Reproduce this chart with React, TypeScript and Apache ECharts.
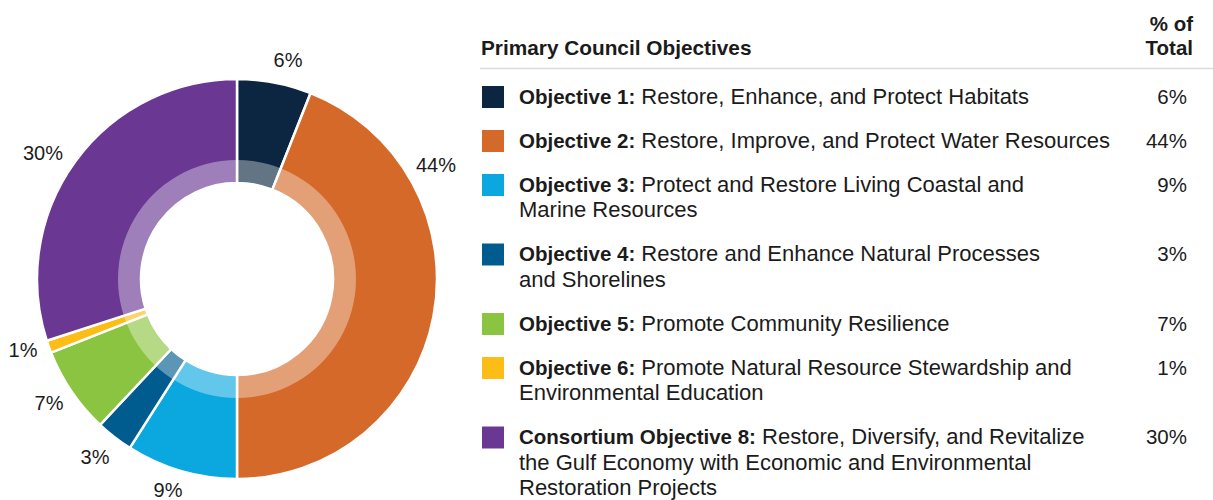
import React, { useEffect, useRef } from "react";
import * as echarts from "echarts";

const categories = [
  "Objective 1:",
  "Objective 2:",
  "Objective 3:",
  "Objective 4:",
  "Objective 5:",
  "Objective 6:",
  "Consortium Objective 8:",
];
const descriptions = [
  "Restore, Enhance, and Protect Habitats",
  "Restore, Improve, and Protect Water Resources",
  "Protect and Restore Living Coastal and\nMarine Resources",
  "Restore and Enhance Natural Processes\nand Shorelines",
  "Promote Community Resilience",
  "Promote Natural Resource Stewardship and\nEnvironmental Education",
  "Restore, Diversify, and Revitalize\nthe Gulf Economy with Economic and Environmental\nRestoration Projects",
];
const values = [6, 44, 9, 3, 7, 1, 30];
const colors = ["#0c2641", "#d4692a", "#0aa8df", "#005b8f", "#8bc441", "#fbbd16", "#6a3792"];
const headerLeft = "Primary Council Objectives";
const headerRight = "% of\nTotal";

// label placements around the donut (style constants)
const labelPos: [number, number][] = [
  [288, 60],
  [436, 165],
  [168, 490],
  [95, 457],
  [49, 403],
  [23, 350],
  [43, 153],
];

const FONT = "'Liberation Sans', Arial, Helvetica, sans-serif";
const TEXT = "#1b1b1b";

export default function App() {
  const ref = useRef<HTMLDivElement>(null);
  useEffect(() => {
    if (!ref.current) return;
    const chart = echarts.init(ref.current, null, { renderer: "svg" });
    const cx = 237;
    const cy = 279;

    const graphics: any[] = [];
    graphics.push({
      type: "text",
      x: 481,
      y: 47,
      style: { text: headerLeft, font: `bold 20.8px ${FONT}`, fill: TEXT, verticalAlign: "middle" },
    });
    graphics.push({
      type: "text",
      x: 1193,
      y: 35,
      style: {
        text: headerRight,
        font: `bold 20.5px ${FONT}`,
        fill: TEXT,
        align: "right",
        verticalAlign: "middle",
        lineHeight: 24,
      },
    });
    graphics.push({
      type: "line",
      shape: { x1: 480, y1: 68.5, x2: 1213, y2: 68.5 },
      style: { stroke: "#dcdcdc", lineWidth: 1.5 },
    });

    const LH = 25.5;
    let rowCenter = 96;
    categories.forEach((cat, i) => {
      const lines = descriptions[i].split("\n").length;
      graphics.push({
        type: "rect",
        shape: { x: 482, y: rowCenter - 10, width: 22, height: 22 },
        style: { fill: colors[i] },
      });
      graphics.push({
        type: "text",
        x: 519,
        y: rowCenter - LH / 2,
        style: {
          text: `{b|${cat}} ${descriptions[i]}`,
          font: `22px ${FONT}`,
          fill: TEXT,
          verticalAlign: "top",
          lineHeight: LH,
          rich: {
            b: { fontWeight: "bold", fontSize: 20.5, fontFamily: FONT, fill: TEXT, lineHeight: LH },
          },
        },
      });
      graphics.push({
        type: "text",
        x: 1187,
        y: rowCenter,
        style: {
          text: `${values[i]}%`,
          font: `20.5px ${FONT}`,
          fill: TEXT,
          align: "right",
          verticalAlign: "middle",
        },
      });
      rowCenter += 44 + LH * (lines - 1);
    });

    chart.setOption({
      animation: false,
      series: [
        {
          type: "pie",
          center: [cx, cy],
          radius: [96, 200],
          startAngle: 90,
          clockwise: true,
          avoidLabelOverlap: false,
          data: values.map((v, i) => ({
            value: v,
            name: categories[i],
            itemStyle: { color: colors[i] },
          })),
          itemStyle: { borderColor: "#ffffff", borderWidth: 2.5 },
          label: {
            show: true,
            position: "outside",
            formatter: "{c}%",
            fontSize: 20,
            fontFamily: FONT,
            color: TEXT,
          },
          labelLine: { show: false },
          labelLayout: (p: any) => ({
            x: labelPos[p.dataIndex][0],
            y: labelPos[p.dataIndex][1],
            align: "center",
            verticalAlign: "middle",
          }),
          emphasis: { disabled: true },
        },
        {
          type: "pie",
          center: [cx, cy],
          radius: [96, 119],
          silent: true,
          label: { show: false },
          labelLine: { show: false },
          data: [{ value: 1, itemStyle: { color: "rgba(255,255,255,0.36)" } }],
          emphasis: { disabled: true },
        },
      ],
      graphic: graphics,
    });
    return () => chart.dispose();
  }, []);
  return (
    <div
      ref={ref}
      style={{ position: "fixed", left: 0, top: 0, width: 1213, height: 500, background: "#fff" }}
    />
  );
}
